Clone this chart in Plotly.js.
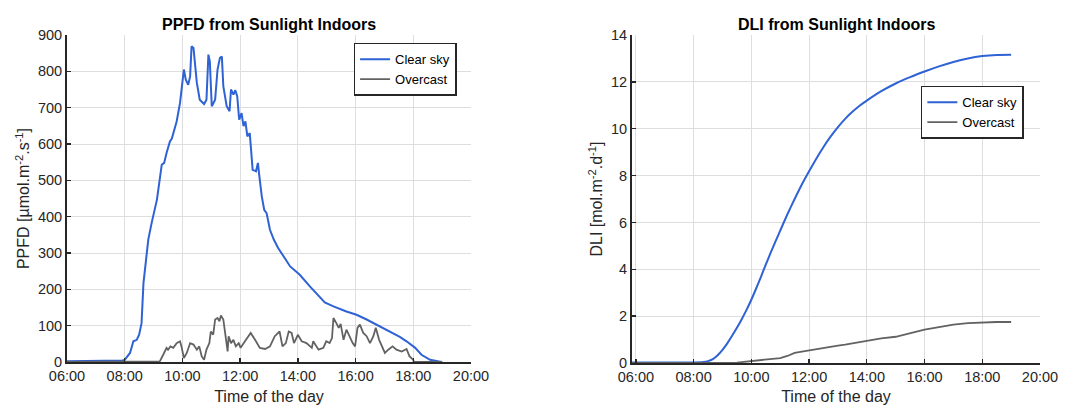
<!DOCTYPE html>
<html>
<head>
<meta charset="utf-8">
<script src="https://cdn.plot.ly/plotly-3.0.1.min.js"></script>
<style>
  html, body { margin: 0; padding: 0; background: #ffffff; }
  #chart { width: 1072px; height: 405px; }
</style>
</head>
<body>
<div id="chart"></div>
<script>
// ---------------- data ----------------
const DAY = '2024-06-01 ';

const seriesNames = ['Clear sky', 'Overcast'];
const plotTitles = ['PPFD from Sunlight Indoors', 'DLI from Sunlight Indoors'];
const xTitle = 'Time of the day';
const yTitlePPFD = 'PPFD [µmol.m<sup>-2</sup>.s<sup>-1</sup>]';
const yTitleDLI = 'DLI [mol.m<sup>-2</sup>.d<sup>-1</sup>]';

// PPFD, clear sky
const clearTime = ['06:00','07:40','07:55','08:00','08:11','08:18','08:25','08:30','08:35','08:39',
  '08:44','08:49','08:56','09:07','09:17','09:22','09:27','09:34','09:38','09:41',
  '09:48','09:55','09:58','10:03','10:07','10:12','10:16','10:19','10:23','10:30',
  '10:36','10:45','10:50','10:54','10:57','11:01','11:08','11:13','11:18','11:22',
  '11:25','11:32','11:38','11:41','11:46','11:50','11:54','11:58','12:03','12:07',
  '12:11','12:15','12:20','12:26','12:33','12:37','12:40','12:45','12:50','12:55',
  '13:02','13:10','13:19','13:30','13:44','14:04','14:25','14:56','15:14','15:41',
  '16:02','16:23','16:40','17:05','17:32','17:46','18:04','18:17','18:35','18:56','19:00'];
const clearPPFD = [2,2,4,6,25,57,61,75,107,217,
  272,337,383,447,543,548,575,607,615,630,
  662,713,754,805,777,763,786,869,864,768,
  722,710,722,846,827,704,722,805,837,841,
  759,704,690,750,736,748,731,667,685,649,
  662,621,630,529,525,548,511,456,419,410,
  364,337,314,291,263,240,208,164,153,139,
  130,117,105,89,69,57,39,20,6,1,0];

// PPFD, overcast
const overTime = ['06:00','09:00','09:13','09:20','09:27','09:30','09:35','09:41','09:48','09:55',
  '09:58','10:03','10:09','10:16','10:23','10:30','10:35','10:40','10:45','10:50',
  '10:56','10:59','11:04','11:08','11:13','11:17','11:20','11:25','11:29','11:34',
  '11:36','11:41','11:46','11:51','11:57','12:01','12:10','12:22','12:31','12:41',
  '12:52','13:02','13:12','13:22','13:28','13:35','13:41','13:47','13:52','14:00',
  '14:08','14:18','14:29','14:32','14:43','14:53','14:59','15:06','15:11','15:14',
  '15:20','15:25','15:29','15:35','15:41','15:47','15:54','15:59','16:04','16:09',
  '16:16','16:23','16:30','16:37','16:42','16:49','16:56','17:01','17:08','17:17',
  '17:25','17:36','17:46','17:52','18:00','18:01','19:00'];
const overPPFD = [0,0,2,20,39,34,43,39,52,57,
  43,11,25,52,48,34,43,16,6,34,
  52,84,75,117,121,112,128,117,80,29,
  71,52,61,43,52,39,57,80,61,39,
  36,43,71,84,43,52,84,80,52,75,
  57,52,39,57,34,39,57,52,66,121,
  107,94,105,61,89,71,52,43,94,103,
  80,71,52,71,94,61,39,25,34,43,
  34,29,36,16,6,0,0];

// DLI
const dliTime = ['05:52','08:00','08:20','08:30','08:40','08:50','09:00','09:10','09:20','09:30',
  '09:40','09:50','10:00','10:10','10:20','10:30','10:40','10:50','11:00','11:15',
  '11:30','11:45','12:00','12:15','12:30','12:45','13:00','13:15','13:30','13:45',
  '14:00','14:30','15:00','15:30','16:00','16:30','17:00','17:30','18:00','18:30','19:00'];
const dliClear = [0.02,0.02,0.04,0.08,0.17,0.33,0.56,0.84,1.16,1.5,
  1.87,2.27,2.7,3.18,3.68,4.2,4.7,5.18,5.65,6.35,
  7.0,7.62,8.18,8.72,9.22,9.67,10.07,10.42,10.72,10.98,
  11.2,11.6,11.93,12.2,12.44,12.66,12.85,13.0,13.1,13.15,13.16];
const dliOver = [0,0,0,0,0,0,0,0,0.01,0.02,
  0.04,0.06,0.09,0.11,0.13,0.15,0.17,0.19,0.21,0.3,
  0.43,0.49,0.54,0.6,0.67,0.71,0.74,0.78,0.83,0.9,
  0.96,1.05,1.12,1.28,1.42,1.53,1.64,1.7,1.74,1.75,1.75];

const xTickLabels = ['06:00','08:00','10:00','12:00','14:00','16:00','18:00','20:00'];
const ppfdTicks = [0,100,200,300,400,500,600,700,800,900];
const dliTicks = [0,2,4,6,8,10,12,14];

// ---------------- styling ----------------
const BLUE = '#2f62d4';
const GRAY = '#626262';
const AX = '#262626';
const GRID = '#dedede';
const FONT = 'Liberation Sans, Arial, Helvetica, sans-serif';
const toX = arr => arr.map(t => DAY + t);
const xTickVals = toX(xTickLabels);

const traces = [
  {x: toX(clearTime), y: clearPPFD, name: seriesNames[0], type: 'scatter', mode: 'lines',
   line: {color: BLUE, width: 2}, xaxis: 'x', yaxis: 'y', legend: 'legend'},
  {x: toX(overTime), y: overPPFD, name: seriesNames[1], type: 'scatter', mode: 'lines',
   line: {color: GRAY, width: 1.8}, xaxis: 'x', yaxis: 'y', legend: 'legend'},
  {x: toX(dliTime), y: dliClear, name: seriesNames[0], type: 'scatter', mode: 'lines',
   line: {color: BLUE, width: 2, shape: 'spline', smoothing: 0.6}, xaxis: 'x2', yaxis: 'y2', legend: 'legend2'},
  {x: toX(dliTime), y: dliOver, name: seriesNames[1], type: 'scatter', mode: 'lines',
   line: {color: GRAY, width: 1.8}, xaxis: 'x2', yaxis: 'y2', legend: 'legend2'}
];

function xAxis(domain, start, anchor) {
  return {
    domain: domain, anchor: anchor, type: 'date',
    range: [DAY + start, DAY + '20:00'],
    tickmode: 'array', tickvals: xTickVals, ticktext: xTickLabels,
    ticks: 'inside', ticklen: 4, tickwidth: 1.3, tickcolor: AX,
    showline: true, linecolor: AX, linewidth: 2,
    showgrid: true, gridcolor: GRID, gridwidth: 1, zeroline: false,
    tickfont: {family: FONT, size: 14.5, color: AX},
    title: {text: xTitle, font: {family: FONT, size: 16, color: AX}, standoff: 7},
    automargin: false, fixedrange: true
  };
}
function yAxis(domain, range, ticks, title, anchor) {
  return {
    domain: domain, anchor: anchor, range: range,
    tickmode: 'array', tickvals: ticks,
    ticks: 'inside', ticklen: 4, tickwidth: 1.3, tickcolor: AX,
    showline: true, linecolor: AX, linewidth: 2,
    showgrid: true, gridcolor: GRID, gridwidth: 1, zeroline: false,
    tickfont: {family: FONT, size: 14.5, color: AX},
    title: {text: title, font: {family: FONT, size: 16, color: AX}, standoff: 4},
    automargin: false, fixedrange: true
  };
}

const legendStyle = {
  bgcolor: '#ffffff', bordercolor: AX, borderwidth: 1.5,
  font: {family: FONT, size: 13, color: '#000000'},
  xanchor: 'right', yanchor: 'top', xref: 'paper', yref: 'paper',
  tracegroupgap: 0
};

const layout = {
  width: 1072, height: 405,
  paper_bgcolor: '#ffffff', plot_bgcolor: '#ffffff',
  margin: {l: 67, r: 32, t: 35, b: 42},
  showlegend: true,
  font: {family: FONT, color: AX},
  xaxis: xAxis([0, 0.4152], '06:00', 'y'),
  yaxis: yAxis([0.003, 1], [0, 900], ppfdTicks, yTitlePPFD, 'x'),
  xaxis2: xAxis([0.5807, 1], '05:52', 'y2'),
  yaxis2: yAxis([0, 1], [0, 14], dliTicks, yTitleDLI, 'x2'),
  legend: Object.assign({x: 0.4004, y: 0.976}, legendStyle),
  legend2: Object.assign({x: 0.9834, y: 0.845}, legendStyle),
  annotations: [
    {text: '<b>' + plotTitles[0] + '</b>', xref: 'x domain', yref: 'paper', x: 0.5, y: 1,
     yshift: 11, xanchor: 'center', yanchor: 'middle', showarrow: false,
     font: {family: FONT, size: 16, color: '#000000'}},
    {text: '<b>' + plotTitles[1] + '</b>', xref: 'x2 domain', yref: 'paper', x: 0.5, y: 1,
     yshift: 11, xanchor: 'center', yanchor: 'middle', showarrow: false,
     font: {family: FONT, size: 16, color: '#000000'}}
  ]
};

Plotly.newPlot('chart', traces, layout, {displayModeBar: false, staticPlot: true});
</script>
</body>
</html>
